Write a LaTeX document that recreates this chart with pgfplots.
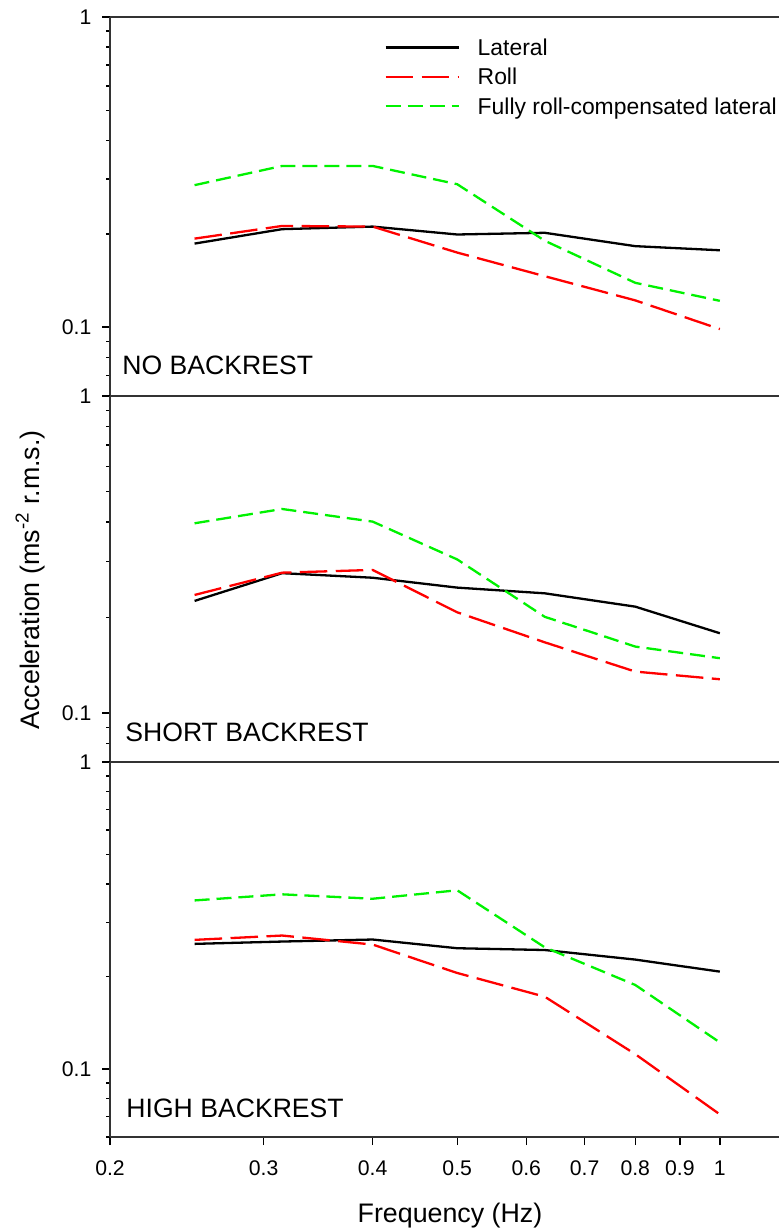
\documentclass[border=0pt]{standalone}
\usepackage{fontspec}
\setmainfont{Liberation Sans}
\usepackage{pgfplots}
\usepackage{pgfplotstable}
\pgfplotsset{compat=1.18}

\definecolor{myred}{rgb}{1,0,0}
\definecolor{mygreen}{rgb}{0,0.95,0}

\pgfplotstableread{
f     lat     roll    full
0.25  0.186   0.193   0.287
0.315 0.207   0.212   0.331
0.4   0.211   0.211   0.331
0.5   0.199   0.174   0.289
0.63  0.2015  0.146   0.190
0.8   0.1825  0.122   0.139
1.0   0.177   0.0986  0.1216
}\tno
\pgfplotstableread{
f     lat     roll    full
0.25  0.2256  0.2356  0.3966
0.315 0.276   0.277   0.440
0.4   0.267   0.2826  0.4014
0.5   0.2485  0.2077  0.305
0.63  0.2384  0.167   0.201
0.8   0.2164  0.135   0.1619
1.0   0.1784  0.1277  0.1488
}\tshort
\pgfplotstableread{
f     lat     roll    full
0.25  0.2555  0.2633  0.354
0.315 0.260   0.272   0.3706
0.4   0.264   0.2542  0.3585
0.5   0.2473  0.2054  0.382
0.63  0.244   0.1719  0.249
0.8   0.2271  0.1117  0.1877
1.0   0.2075  0.0711  0.122
}\thigh

\tikzset{
  slat/.style={black, line width=1.15pt},
  sroll/.style={myred, line width=1.15pt, dash pattern=on 13.75pt off 4.25pt},
  sfull/.style={mygreen, line width=1.15pt, dash pattern=on 7.5pt off 3.5pt},
  plab/.style={anchor=base west, inner sep=0pt, font=\fontsize{13.3}{15}\selectfont},
}

\pgfplotsset{
  every axis/.append style={
    scale only axis, width=334.5pt,
    xmin=0.2, xmax=1.169,
    ymax=1,
    axis x line*=box, axis y line*=left,
    axis line style={line width=0.8pt, black!80},
    tick style={line width=0.7pt, black},
    tick align=outside,
    xtick pos=bottom, ytick pos=left,
    ytick={0.1,1}, yticklabels={0.1,1},
    minor ytick={0.06,0.07,0.08,0.09,0.2,0.3,0.4,0.5,0.6,0.7,0.8,0.9},
    major tick length=4pt, minor tick length=2pt,
    /pgf/number format/assume math mode=true,
    tick label style={font=\fontsize{10.6}{12}\selectfont},
    yticklabel style={xshift=-1.8pt},
  },
}

\begin{document}
\begin{tikzpicture}
% top panel
\begin{loglogaxis}[at={(55pt,417pt)}, anchor=south west, height=189.5pt, ymin=0.06,
  xtick=\empty,
  legend style={at={(rel axis cs:0.4096,0.942)}, anchor=north west, draw=none, fill=none,
    inner sep=0pt, font=\fontsize{11.45}{13}\selectfont, row sep=6.4pt, column sep=9pt,
    nodes={inner sep=0pt, text height=8.2pt, text depth=0pt}},
  legend cell align=left,
  legend image code/.code={\draw[#1] (0pt,0pt) -- (36.5pt,0pt);},
]
\addplot[slat] table[x=f,y=lat]{\tno};
\addlegendentry{Lateral}
\addplot[sroll] table[x=f,y=roll]{\tno};
\addlegendentry{Roll}
\addplot[sfull] table[x=f,y=full]{\tno};
\addlegendentry{Fully roll-compensated lateral}
\node[plab] at (rel axis cs:0.018,0.058) {NO BACKREST};
\end{loglogaxis}
% middle panel
\begin{loglogaxis}[at={(55pt,234pt)}, anchor=south west, height=183pt, ymin=0.07, xtick=\empty]
\addplot[slat] table[x=f,y=lat]{\tshort};
\addplot[sroll] table[x=f,y=roll]{\tshort};
\addplot[sfull] table[x=f,y=full]{\tshort};
\node[plab] at (rel axis cs:0.0224,0.0555) {SHORT BACKREST};
\end{loglogaxis}
% bottom panel
\begin{loglogaxis}[at={(55pt,46.5pt)}, anchor=south west, height=187.5pt, ymin=0.06,
  xtick={0.2,0.3,0.4,0.5,0.6,0.7,0.8,0.9,1},
  xticklabels={0.2,0.3,0.4,0.5,0.6,0.7,0.8,0.9,1},
  xticklabel style={yshift=-4.5pt},
]
\addplot[slat] table[x=f,y=lat]{\thigh};
\addplot[sroll] table[x=f,y=roll]{\thigh};
\addplot[sfull] table[x=f,y=full]{\thigh};
\node[plab] at (rel axis cs:0.024,0.0507) {HIGH BACKREST};
\end{loglogaxis}
\node[anchor=base, inner sep=0pt, font=\fontsize{13.4}{15}\selectfont] at (225pt,4pt) {Frequency (Hz)};
\node[anchor=base, rotate=90, inner sep=0pt, font=\fontsize{13.4}{15}\selectfont] at (19.6pt,325pt) {Acceleration (ms\textsuperscript{-2} r.m.s.)};
\pgfresetboundingbox
\useasboundingbox (0pt,0pt) rectangle (389.5pt,615pt);
\end{tikzpicture}
\end{document}
